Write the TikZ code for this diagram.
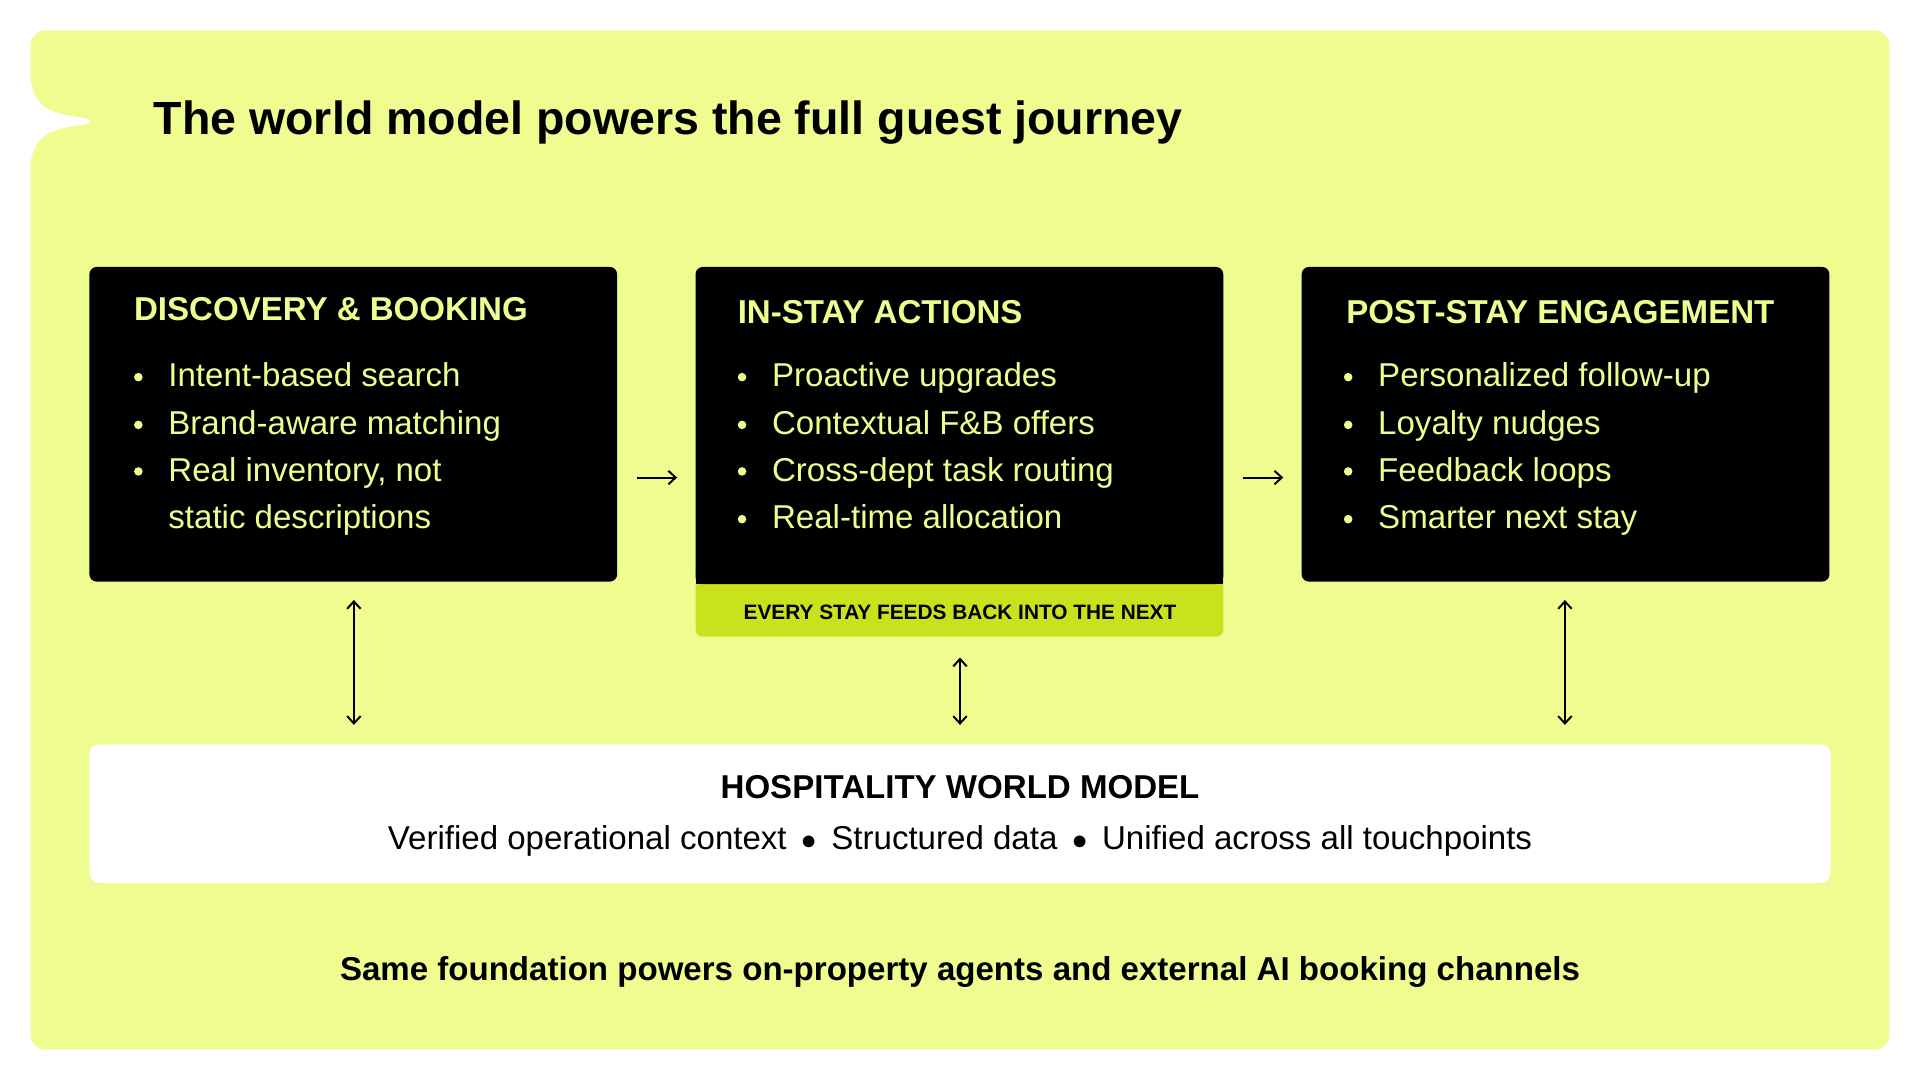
\documentclass[tikz,border=0pt]{standalone}
\usepackage{fontspec}
\setmainfont{Liberation Sans}
\usetikzlibrary{arrows.meta}
\definecolor{bg}{HTML}{EFFC8F}
\definecolor{strip}{HTML}{C8E31E}
\begin{document}
\begin{tikzpicture}[x=1pt,y=-1pt,
  blk/.style={fill=black,rounded corners=6pt},
  head/.style={anchor=base west,text=bg,font=\fontsize{27}{30}\selectfont\bfseries},
  item/.style={anchor=base west,text=bg,font=\fontsize{27}{30}\selectfont},
  dot/.style={circle,fill=bg,inner sep=0pt,minimum size=7pt},
  arr/.style={-{Straight Barb[length=6pt,width=11pt]},line width=1.6pt},
  darr/.style={{Straight Barb[length=6pt,width=11pt]}-{Straight Barb[length=6pt,width=11pt]},line width=1.6pt}]
\useasboundingbox (0,0) rectangle (1568,882);
\fill[white] (0,0) rectangle (1568,882);
\fill[bg,rounded corners=12pt] (25,25) rectangle (1543,857);
\fill[white] (24,60) .. controls (28,90) and (40,92) .. (72,97) .. controls (74,99) and (74,100) .. (72,101) .. controls (40,106) and (28,108) .. (24,138) -- cycle;
\node[anchor=base west,font=\fontsize{38}{42}\selectfont\bfseries] (title) at (122,110) {The world model powers the full guest journey};
% boxes
\fill[blk] (73,218) rectangle (504,475); \coordinate (b1) at (288.5,346);
\fill[strip,rounded corners=6pt] (568,460) rectangle (999,520);
\fill[blk] (568,218) rectangle (999,477); \fill[black] (568,460) rectangle (999,477);
\fill[blk] (1063,218) rectangle (1494,475);
\node[anchor=base,font=\fontsize{17}{20}\selectfont\bfseries] (strip) at (784,506) {EVERY STAY FEEDS BACK INTO THE NEXT};
\node[head] (h1) at (106,262) {DISCOVERY \& BOOKING};
\node[head] (h2) at (599,264) {IN-STAY ACTIONS};
\node[head] (h3) at (1096,264) {POST-STAY ENGAGEMENT};
\foreach \x/\t [count=\i] in {316/Intent-based search,355/Brand-aware matching,393/{Real inventory, not}}
  {\node[dot] (d1\i) at (113,\x-8) {}; \node[item] (t1\i) at (134,\x) {\t};}
\node[item] (t14) at (134,432) {static descriptions};
\foreach \x/\t [count=\i] in {316/Proactive upgrades,355/Contextual F\&B offers,393/Cross-dept task routing,432/Real-time allocation}
  {\node[dot] (d2\i) at (606,\x-8) {}; \node[item] (t2\i) at (627,\x) {\t};}
\foreach \x/\t [count=\i] in {316/Personalized follow-up,355/Loyalty nudges,393/Feedback loops,432/Smarter next stay}
  {\node[dot] (d3\i) at (1101,\x-8) {}; \node[item] (t3\i) at (1122,\x) {\t};}
% arrows
\coordinate (a1) at (520,390); \coordinate (a2) at (553,390);
\coordinate (a3) at (1015,390); \coordinate (a4) at (1048,390);
\draw[arr] (a1) -- (a2); \draw[arr] (a3) -- (a4);
\coordinate (v1a) at (289,490); \coordinate (v1b) at (289,592);
\coordinate (v2a) at (784,537); \coordinate (v2b) at (784,592);
\coordinate (v3a) at (1278,490); \coordinate (v3b) at (1278,592);
\draw[darr] (v1a) -- (v1b); \draw[darr] (v2a) -- (v2b); \draw[darr] (v3a) -- (v3b);
% world model
\fill[white,rounded corners=8pt] (73,608) rectangle (1495,721);
\node[anchor=base,font=\fontsize{27}{30}\selectfont\bfseries] (wm) at (784,652) {HOSPITALITY WORLD MODEL};
\node[anchor=base,font=\fontsize{27}{30}\selectfont] (wms) at (784,694) {Verified operational context \,$\bullet$\, Structured data \,$\bullet$\, Unified across all touchpoints};
\node[anchor=base,font=\fontsize{27}{30}\selectfont\bfseries] (foot) at (784,801) {Same foundation powers on-property agents and external AI booking channels};
\end{tikzpicture}
\end{document}
